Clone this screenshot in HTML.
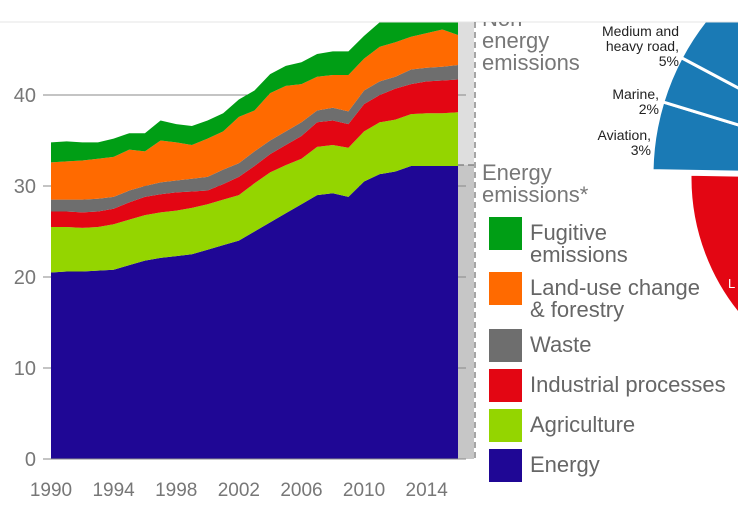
<!DOCTYPE html>
<html><head><meta charset="utf-8"><style>
html,body{margin:0;padding:0;background:#fff;width:738px;height:513px;overflow:hidden}
svg{display:block}
text{font-family:"Liberation Sans",sans-serif}
</style></head><body>
<svg id="c" width="738" height="513">
<defs><clipPath id="clip"><rect x="0" y="22" width="738" height="491"/></clipPath></defs>
<g id="pie" clip-path="url(#clip)"></g>
<g id="plot" clip-path="url(#clip)"></g>
<line x1="0" y1="22" x2="738" y2="22" stroke="#e4e4e4" stroke-width="1"/>
<g id="axes" clip-path="url(#clip)"></g>
<g id="legend"></g>
</svg>
<script>
const years=[1990,1991,1992,1993,1994,1995,1996,1997,1998,1999,2000,2001,2002,2003,2004,2005,2006,2007,2008,2009,2010,2011,2012,2013,2014,2015,2016];
const energy=[20.5,20.6,20.6,20.7,20.8,21.3,21.8,22.1,22.3,22.5,23.0,23.5,24.0,25.0,26.0,27.0,28.0,29.0,29.2,28.8,30.5,31.3,31.6,32.2,32.2,32.2,32.2];
const agriculture=[5.0,4.9,4.8,4.8,5.0,5.0,5.0,5.0,5.0,5.1,5.0,5.0,5.0,5.3,5.5,5.3,5.0,5.3,5.3,5.4,5.5,5.7,5.7,5.7,5.8,5.8,5.9];
const industrial=[1.7,1.7,1.7,1.7,1.7,1.9,2.0,2.0,2.0,1.8,1.5,1.7,2.0,1.9,2.0,2.2,2.5,2.7,2.7,2.6,3.0,3.0,3.4,3.3,3.5,3.6,3.6];
const waste=[1.3,1.3,1.4,1.4,1.3,1.3,1.2,1.3,1.3,1.4,1.5,1.6,1.5,1.6,1.5,1.5,1.5,1.3,1.4,1.4,1.5,1.5,1.3,1.6,1.5,1.5,1.6];
const landUse=[4.1,4.2,4.3,4.4,4.4,4.5,3.8,4.6,4.2,3.7,4.2,4.2,5.1,4.5,5.2,5.0,4.2,3.7,3.6,4.0,3.5,3.8,3.8,3.6,3.8,4.1,3.3];
const fugitive=[2.2,2.2,2.0,1.8,2.0,1.8,2.0,2.2,2.0,2.1,2.0,2.0,1.9,2.2,2.1,2.2,2.4,2.5,2.6,2.6,2.5,2.7,3.2,3.1,3.2,2.8,3.4];
const yTicks=[0,10,20,30,40];
const xTicks=[1990,1994,1998,2002,2006,2010,2014];

const NS="http://www.w3.org/2000/svg";
const x=v=>51+(v-1990)*(407/26);
const y=v=>459-v*9.1;
function mk(tag,attrs,parent){const e=document.createElementNS(NS,tag);for(const k in attrs)e.setAttribute(k,attrs[k]);parent.appendChild(e);return e;}
const plot=document.getElementById('plot'),axes=document.getElementById('axes'),legend=document.getElementById('legend'),pie=document.getElementById('pie');

function sector(cx,cy,r,a0,a1,fill,name){const p=a=>[cx+r*Math.cos(a*Math.PI/180),cy+r*Math.sin(a*Math.PI/180)];
 const [x0,y0]=p(a0),[x1,y1]=p(a1);
 const e=mk('path',{d:`M${cx},${cy}L${x0},${y0}A${r},${r} 0 0 1 ${x1},${y1}Z`,fill:fill,stroke:'#fff','stroke-width':3},pie);
 }
sector(902,175,250,181,197,'#1a7ab5','aviation-slice');
sector(902,175,250,197,208,'#1a7ab5','marine-slice');
sector(902,175,250,208,240,'#1a7ab5','road-slice');
sector(905,178,215,90,181,'#e30613','red-slice');
const L=mk('text',{x:728,y:288,fill:'#fff','font-size':13},pie);L.textContent='L';
const pl=[["Medium and",679,36],["heavy road,",679,51],["5%",679,66],["Marine,",659,99],["2%",659,114],["Aviation,",651,140],["3%",651,155]];
pl.forEach(([t,px,py])=>{const e=mk('text',{x:px,y:py,'text-anchor':'end','font-size':14,fill:'#222'},pie);e.textContent=t;
});

mk('rect',{x:458,y:22,width:16,height:143,fill:'#dedede'},plot);
mk('rect',{x:458,y:165,width:16,height:294,fill:'#c6c6c6'},plot);
yTicks.forEach(t=>{const g=mk('line',{x1:43,x2:466,y1:y(t),y2:y(t),stroke:'#888','stroke-width':1},plot);

const tx=mk('text',{x:36,y:y(t)+7,'text-anchor':'end','font-size':20,fill:'#777'},axes);tx.textContent=t;
});

const series=[energy,agriculture,industrial,waste,landUse,fugitive];
const colors=['#1f0795','#94d500','#e30613','#6e6e6e','#ff6a00','#009e15'];
const names=['area-energy','area-agriculture','area-industrial','area-waste','area-land-use','area-fugitive'];
let base=years.map(()=>0);
series.forEach((s,i)=>{const top=base.map((b,j)=>b+s[j]);
 let d='M'+years.map((yr,j)=>x(yr)+','+y(top[j])).join('L');
 for(let j=years.length-1;j>=0;j--)d+='L'+x(years[j])+','+y(base[j]);
 const p=mk('path',{d:d+'Z',fill:colors[i]},plot);
 
 base=top;});
mk('line',{x1:43,x2:466,y1:y(0),y2:y(0),stroke:'#888','stroke-width':1},axes);

xTicks.forEach(t=>{const tx=mk('text',{x:x(t),y:496,'text-anchor':'middle','font-size':19,fill:'#777'},axes);tx.textContent=t;
});

mk('line',{x1:475,x2:475,y1:22,y2:459,stroke:'#777','stroke-width':1.3,'stroke-dasharray':'6,4'},axes);
mk('line',{x1:458,x2:478,y1:165,y2:165,stroke:'#777','stroke-width':1.3,'stroke-dasharray':'6,4'},axes);

[["Non",26],["energy",48],["emissions",70]].forEach(([t,py])=>{const e=mk('text',{x:482,y:py,'font-size':22,fill:'#777'},axes);e.textContent=t;
});
[["Energy",180],["emissions*",202]].forEach(([t,py])=>{const e=mk('text',{x:482,y:py,'font-size':22,fill:'#777'},axes);e.textContent=t;
});

const leg=[[5,217,["Fugitive","emissions"]],[4,272,["Land-use change","& forestry"]],[3,329,["Waste"]],[2,369,["Industrial processes"]],[1,409,["Agriculture"]],[0,449,["Energy"]]];
leg.forEach(([ci,ly,lines])=>{
 const r=mk('rect',{x:489,y:ly,width:33,height:33,fill:colors[ci]},legend);
 
 lines.forEach((t,k)=>{const e=mk('text',{x:530,y:ly+23+k*22,'font-size':22,fill:'#666'},legend);e.textContent=t;
 });
});
</script>
</body></html>
